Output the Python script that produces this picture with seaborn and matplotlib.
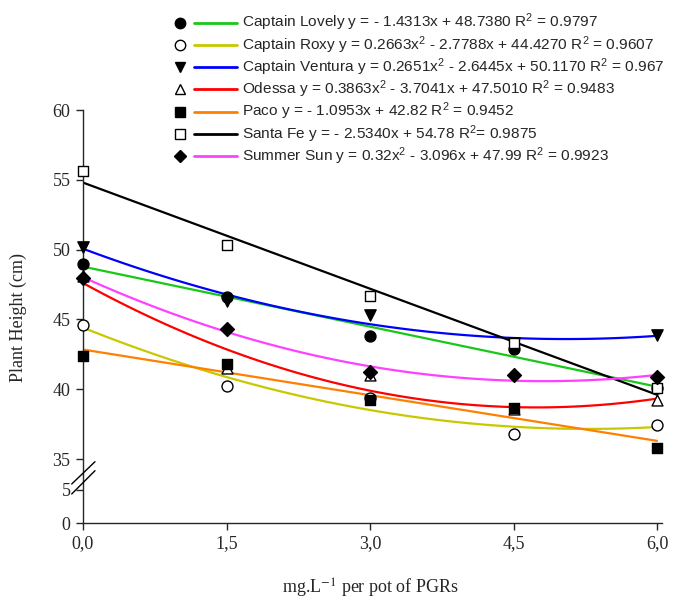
import numpy as np
import pandas as pd
import matplotlib
matplotlib.use("Agg")
import matplotlib.pyplot as plt
import seaborn as sns
from matplotlib.lines import Line2D

# ---------------- data ----------------
doses = [0.0, 1.5, 3.0, 4.5, 6.0]
dose_labels = ["0,0", "1,5", "3,0", "4,5", "6,0"]

captain_lovely = [49.0, 46.6, 43.8, 42.9, 40.1]
captain_roxy = [44.6, 40.2, 39.4, 36.8, 37.4]
captain_ventura = [50.2, 46.3, 45.3, 43.3, 43.9]
odessa = [48.1, 41.5, 41.0, 38.6, 39.2]
paco = [42.4, 41.8, 39.2, 38.65, 35.8]
santa_fe = [55.6, 50.3, 46.7, 43.3, 40.1]
summer_sun = [48.0, 44.3, 41.2, 41.0, 40.9]

cultivars = ["Captain Lovely", "Captain Roxy", "Captain Ventura", "Odessa",
             "Paco", "Santa Fe", "Summer Sun"]
series = [captain_lovely, captain_roxy, captain_ventura, odessa, paco,
          santa_fe, summer_sun]
fit_orders = [1, 2, 2, 2, 1, 1, 2]
equations = [
    r"y = - 1.4313x + 48.7380 R$^{\mathrm{2}}$ = 0.9797",
    r"y = 0.2663x$^{\mathrm{2}}$ - 2.7788x + 44.4270 R$^{\mathrm{2}}$ = 0.9607",
    r"y = 0.2651x$^{\mathrm{2}}$ - 2.6445x + 50.1170 R$^{\mathrm{2}}$ = 0.967",
    r"y = 0.3863x$^{\mathrm{2}}$ - 3.7041x + 47.5010 R$^{\mathrm{2}}$ = 0.9483",
    r"y = - 1.0953x + 42.82 R$^{\mathrm{2}}$ = 0.9452",
    r"y = - 2.5340x + 54.78 R$^{\mathrm{2}}$= 0.9875",
    r"y = 0.32x$^{\mathrm{2}}$ - 3.096x + 47.99 R$^{\mathrm{2}}$ = 0.9923",
]
y_ticks_top = [35, 40, 45, 50, 55, 60]
y_ticks_bottom = [0, 5]

# ---------------- styles ----------------
line_colors = ["#18c818", "#c8c800", "#0000ff", "#ff0000", "#ff8000",
               "#000000", "#ff40ff"]
markers = ["o", "o", "v", "^", "s", "s", "D"]
face_colors = ["black", "white", "black", "white", "black", "white", "black"]
marker_sizes = [62, 62, 66, 62, 58, 58, 50]

sns.set_style("ticks")
plt.rcParams["font.family"] = ["Liberation Serif", "DejaVu Serif"]
plt.rcParams["mathtext.fontset"] = "custom"
plt.rcParams["mathtext.rm"] = "Liberation Sans"
plt.rcParams["mathtext.it"] = "Liberation Sans:italic"

W, H = 686, 601
fig = plt.figure(figsize=(W / 100, H / 100), dpi=100)

def fx(px):
    return px / W

def fy(py):
    return 1 - py / H

x0, x6 = 83, 657
unit = (x6 - x0) / 6.0
xlim = (0.0, 6.05)
left = fx(x0)
width = fx(x0 + unit * (xlim[1] - xlim[0])) - left

# top axes: 60 at y=110, 35 at y=459
top_px, brk_px, bot_px = 110, 475, 523
ppu_top = (459 - 110) / 25.0
ylim_top = (35 - (brk_px - 459) / ppu_top, 60)
ax = fig.add_axes([left, fy(brk_px), width, fy(top_px) - fy(brk_px)])
ppu_bot = (523 - 490) / 5.0
ylim_bot = (0, (bot_px - brk_px) / ppu_bot)
axb = fig.add_axes([left, fy(bot_px), width, fy(brk_px) - fy(bot_px)])

df = pd.DataFrame({
    "dose": np.tile(doses, len(cultivars)),
    "height": np.concatenate(series),
    "cultivar": np.repeat(cultivars, len(doses)),
})

for i, name in enumerate(cultivars):
    sub = df[df["cultivar"] == name]
    sns.regplot(data=sub, x="dose", y="height", order=fit_orders[i], ci=None,
                scatter=False, truncate=True, ax=ax,
                line_kws=dict(color=line_colors[i], lw=1.6, zorder=2))
for i, name in enumerate(cultivars):
    sub = df[df["cultivar"] == name]
    sns.scatterplot(data=sub, x="dose", y="height", ax=ax, marker=markers[i],
                    s=marker_sizes[i], color=face_colors[i], edgecolor="black",
                    linewidth=1.0, zorder=3 + i, clip_on=False, legend=False)

for a in (ax, axb):
    a.set_xlim(*xlim)
    a.set_xlabel("")
    a.set_ylabel("")
    a.spines["top"].set_visible(False)
    a.spines["right"].set_visible(False)
    a.tick_params(axis="y", direction="out", length=5, width=1,
                  labelsize=13, pad=4)
    for s in a.spines.values():
        s.set_linewidth(1.0)

ax.set_ylim(*ylim_top)
ax.set_yticks(y_ticks_top)
ax.set_yticklabels([str(v) for v in y_ticks_top])
ax.spines["bottom"].set_visible(False)
ax.tick_params(axis="x", bottom=False, labelbottom=False)

axb.set_ylim(*ylim_bot)
axb.set_yticks(y_ticks_bottom)
axb.set_yticklabels([str(v) for v in y_ticks_bottom])
axb.set_xticks(doses)
axb.set_xticklabels(dose_labels)
axb.tick_params(axis="x", direction="out", length=5, width=1, labelsize=13,
                pad=4)

ax.set_ylabel("Plant Height (cm)", fontsize=13)
axb.set_xlabel(r"mg.L$^{\mathrm{-1}}$ per pot of PGRs", fontsize=13,
               math_fontfamily="stix")
ax.yaxis.set_label_coords(fx(27), fy(317), transform=fig.transFigure)
axb.xaxis.set_label_coords(fx(370), fy(577), transform=fig.transFigure)

# axis break marks
for y1, y2 in [(484, 461.7), (494, 470.7)]:
    fig.add_artist(Line2D([fx(71.7), fx(95)], [fy(y1), fy(y2)], color="black",
                          lw=1.0, transform=fig.transFigure))

# legend (marker, line, text)
row0, drow = 22.5, 22.3
for i, name in enumerate(cultivars):
    yy = fy(row0 + i * drow)
    fig.add_artist(Line2D([fx(194), fx(237)], [yy, yy], color=line_colors[i],
                          lw=2.0, transform=fig.transFigure))
    fig.add_artist(Line2D([fx(179.5)], [yy], marker=markers[i], ls="none",
                          markersize=7.5 if markers[i] != "D" else 6.5,
                          markerfacecolor=face_colors[i],
                          markeredgecolor="black", markeredgewidth=1.0,
                          transform=fig.transFigure))
    fig.text(fx(242), yy, name + " " + equations[i], fontsize=11.1,
             family=["Liberation Sans", "DejaVu Sans"], va="center",
             ha="left")

fig.savefig("out.png", dpi=100)
